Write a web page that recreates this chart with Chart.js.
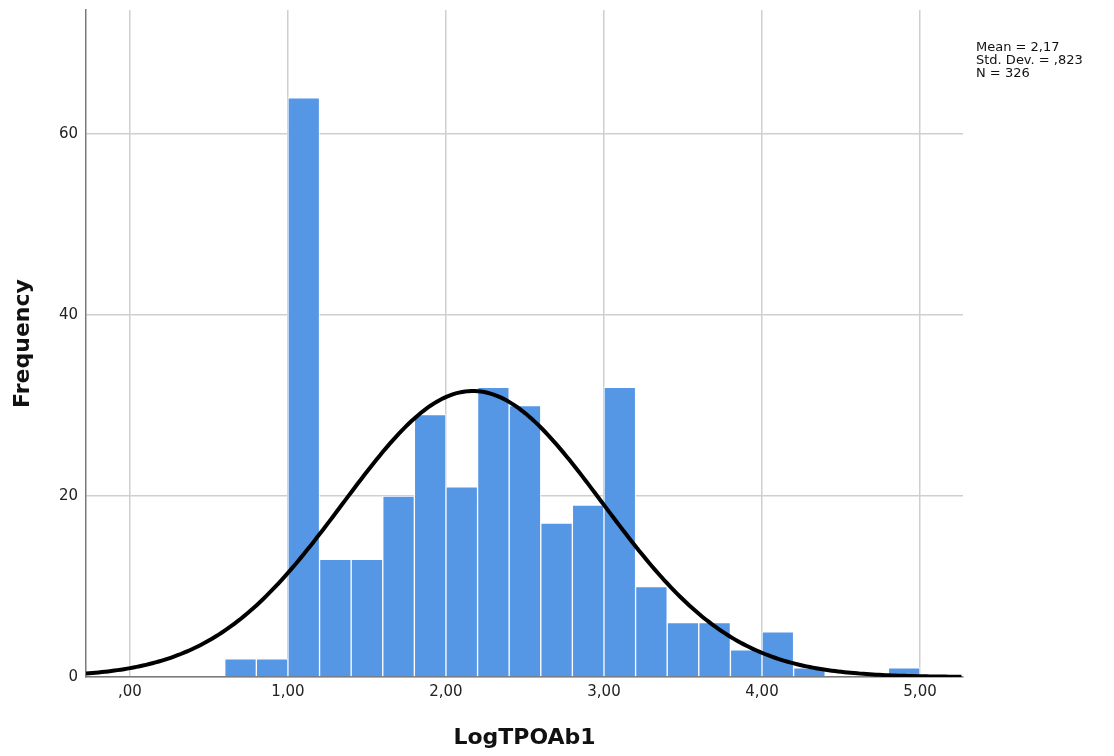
<!DOCTYPE html>
<html>
<head>
<meta charset="utf-8">
<title>LogTPOAb1</title>
<script src="https://cdn.jsdelivr.net/npm/chart.js@4"></script>
<style>
  html, body { margin: 0; padding: 0; background: #fff; }
  #wrap { width: 1114px; height: 756px; position: relative; }
</style>
</head>
<body>
<div id="wrap"><canvas id="hist"></canvas></div>
<script>
    // Histogram bins (left edge of each 0,2 wide bin) and their frequencies
    const binStarts = [0.6, 0.8, 1.0, 1.2, 1.4, 1.6, 1.8, 2.0, 2.2, 2.4, 2.6, 2.8, 3.0, 3.2, 3.4, 3.6, 3.8, 4.0, 4.2, 4.4, 4.6, 4.8];
    const counts    = [2,   2,   64,  13,  13,  20,  29,  21,  32,  30,  17,  19,  32,  10,  6,   6,   3,   5,   1,   0,   0,   1];
    const binWidth = 0.2;

    // Summary statistics shown in the corner box
    const statLabels = ['Mean = 2,17', 'Std. Dev. = ,823', 'N = 326'];
    const mean = 2.17;
    const stdDev = 0.823;
    const total = 326;

    // Tick positions and labels
    const xTicks = [0, 1, 2, 3, 4, 5];
    const xTickLabels = [',00', '1,00', '2,00', '3,00', '4,00', '5,00'];
    const yTicks = [0, 20, 40, 60];

    const xMin = -0.278, xMax = 5.272, yMax = 73.7;

    // Normal curve scaled to the histogram (N * bin width * density)
    function normalCurve() {
      const pts = [];
      for (let x = xMin; x <= xMax + 1e-9; x += 0.02) {
        const z = (x - mean) / stdDev;
        const y = total * binWidth * Math.exp(-0.5 * z * z) / (stdDev * Math.sqrt(2 * Math.PI));
        pts.push({ x: x, y: y });
      }
      return pts;
    }

    const statsBox = {
      id: 'statsBox',
      afterDraw(chart) {
        const ctx = chart.ctx;
        ctx.save();
        ctx.font = '13px "DejaVu Sans", sans-serif';
        ctx.fillStyle = '#111';
        ctx.textBaseline = 'middle';
        statLabels.forEach((t, i) => ctx.fillText(t, 976, 48 + i * 13));
        ctx.restore();
      }
    };

    const ctx = document.getElementById('hist').getContext('2d');
    new Chart(ctx, {
      data: {
        datasets: [{
          type: 'line',
          data: normalCurve(),
          borderColor: '#000',
          borderWidth: 4,
          pointRadius: 0,
          tension: 0,
          order: 0
        }, {
          type: 'bar',
          data: binStarts.map((s, i) => ({ x: s + binWidth / 2, y: counts[i] })),
          backgroundColor: '#5596e5',
          borderColor: 'rgba(255,255,255,0.85)',
          borderWidth: 1,
          borderSkipped: 'bottom',
          barPercentage: 1,
          categoryPercentage: 1,
          order: 1
        }]
      },
      options: {
        responsive: true,
        maintainAspectRatio: false,
        animation: false,
        layout: { padding: { left: 0, right: 151, top: 10, bottom: 0 } },
        plugins: { legend: { display: false }, tooltip: { enabled: false } },
        scales: {
          x: {
            type: 'linear',
            min: xMin,
            max: xMax,
            offset: false,
            afterFit: s => { s.height = 79; s.paddingLeft = 0; s.paddingRight = 0; },
            afterBuildTicks: s => { s.ticks = xTicks.map(v => ({ value: v })); },
            ticks: {
              padding: 6,
              color: '#222',
              font: { family: '"DejaVu Sans", sans-serif', size: 15 },
              callback: v => xTickLabels[xTicks.indexOf(v)]
            },
            grid: { color: '#cfcfcf', lineWidth: 1.5, drawTicks: false, offset: false },
            border: { color: '#7a7a7a', width: 1.5 },
            title: {
              display: true,
              text: 'LogTPOAb1',
              color: '#111',
              padding: { top: 0, bottom: 5 },
              font: { family: '"DejaVu Sans", sans-serif', size: 22, weight: 'bold' }
            }
          },
          y: {
            min: 0,
            max: yMax,
            afterFit: s => { s.width = 86; s.paddingTop = 0; s.paddingBottom = 0; },
            afterBuildTicks: s => { s.ticks = yTicks.map(v => ({ value: v })); },
            ticks: {
              padding: 8,
              color: '#222',
              font: { family: '"DejaVu Sans", sans-serif', size: 15 }
            },
            grid: { color: '#cfcfcf', lineWidth: 1.5, drawTicks: false },
            border: { color: '#7a7a7a', width: 1.5 },
            title: {
              display: true,
              text: 'Frequency',
              color: '#111',
              padding: { top: 10, bottom: 0 },
              font: { family: '"DejaVu Sans", sans-serif', size: 22, weight: 'bold' }
            }
          }
        }
      },
      plugins: [statsBox]
    });
</script>
</body>
</html>
